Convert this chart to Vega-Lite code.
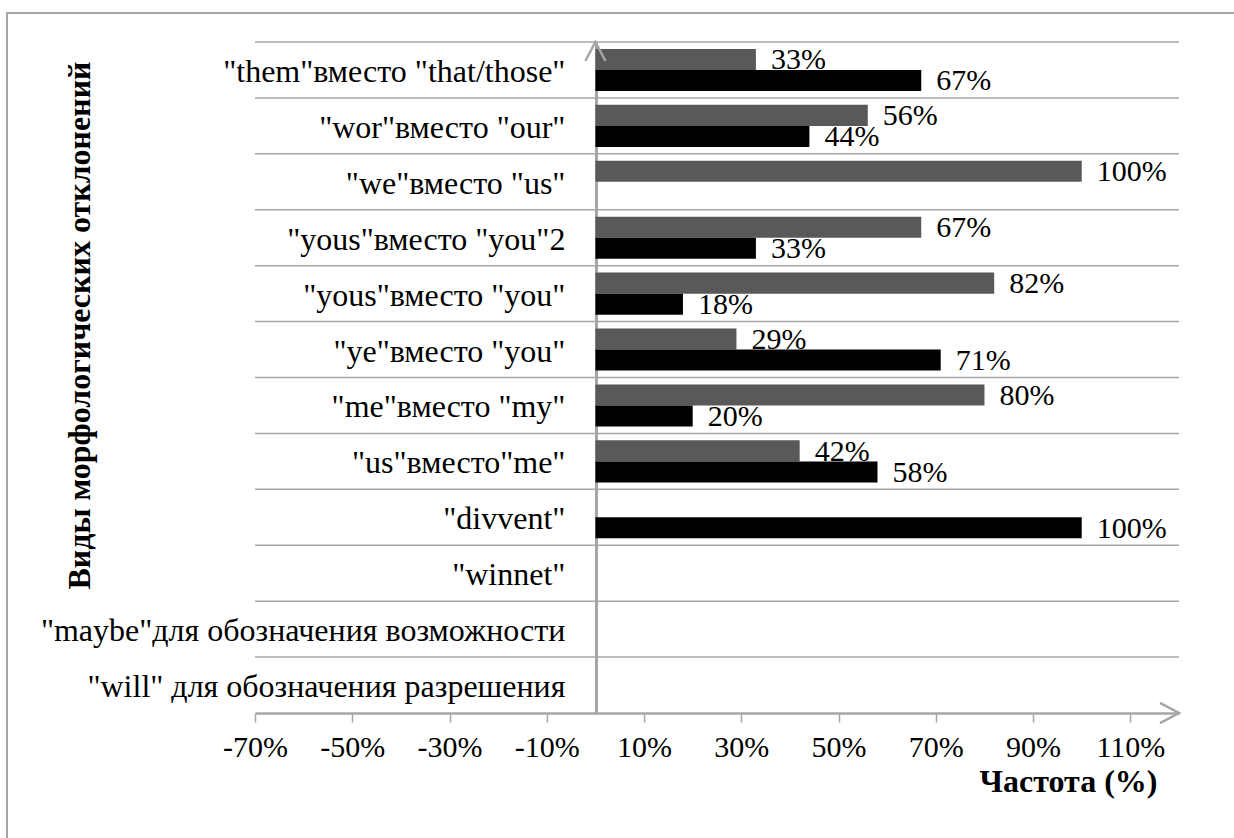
{
  "$schema": "https://vega.github.io/schema/vega-lite/v6.json",
  "autosize": {"type": "none"},
  "padding": {"left": 7, "top": 13, "right": -6, "bottom": -6},
  "width": 1233,
  "height": 831,
  "background": "white",
  "config": {
    "view": {"stroke": "#a6a6a6", "strokeWidth": 2},
    "font": "Liberation Serif",
    "axis": {
      "labelFont": "Liberation Serif", "titleFont": "Liberation Serif", "grid": false,
      "labelColor": "black", "titleColor": "black", "labelFontSize": 30, "titleFontSize": 32,
      "titleFontWeight": "bold", "domainColor": "#a6a6a6"
    },
    "axisX": {
      "offset": -131, "domainWidth": 2.5, "tickColor": "#a6a6a6", "tickSize": 9, "tickWidth": 1.5,
      "labelPadding": 10, "labelFlush": false, "labelOverlap": false, "labelBound": false,
      "titleX": 1061, "titleY": 68, "titleAlign": "center", "titleBaseline": "middle"
    },
    "axisY": {
      "offset": -589, "domainWidth": 3, "ticks": false, "labels": false,
      "titleX": -517, "titleY": 312, "titleAlign": "center", "titleBaseline": "middle", "titleAngle": 270
    }
  },
  "datasets": {
    "vals": [
      {"cat": "\"them\"вместо \"that/those\"", "series": "a", "v": 0.33},
      {"cat": "\"them\"вместо \"that/those\"", "series": "b", "v": 0.67},
      {"cat": "\"wor\"вместо \"our\"", "series": "a", "v": 0.56},
      {"cat": "\"wor\"вместо \"our\"", "series": "b", "v": 0.44},
      {"cat": "\"we\"вместо \"us\"", "series": "a", "v": 1.0},
      {"cat": "\"yous\"вместо \"you\"2", "series": "a", "v": 0.67},
      {"cat": "\"yous\"вместо \"you\"2", "series": "b", "v": 0.33},
      {"cat": "\"yous\"вместо \"you\"", "series": "a", "v": 0.82},
      {"cat": "\"yous\"вместо \"you\"", "series": "b", "v": 0.18},
      {"cat": "\"ye\"вместо \"you\"", "series": "a", "v": 0.29},
      {"cat": "\"ye\"вместо \"you\"", "series": "b", "v": 0.71},
      {"cat": "\"me\"вместо  \"my\"", "series": "a", "v": 0.80},
      {"cat": "\"me\"вместо  \"my\"", "series": "b", "v": 0.20},
      {"cat": "\"us\"вместо\"me\"", "series": "a", "v": 0.42},
      {"cat": "\"us\"вместо\"me\"", "series": "b", "v": 0.58},
      {"cat": "\"divvent\"", "series": "b", "v": 1.0}
    ],
    "cats": [
      {"cat": "\"them\"вместо \"that/those\""},
      {"cat": "\"wor\"вместо \"our\""},
      {"cat": "\"we\"вместо \"us\""},
      {"cat": "\"yous\"вместо \"you\"2"},
      {"cat": "\"yous\"вместо \"you\""},
      {"cat": "\"ye\"вместо \"you\""},
      {"cat": "\"me\"вместо  \"my\""},
      {"cat": "\"us\"вместо\"me\""},
      {"cat": "\"divvent\""},
      {"cat": "\"winnet\""},
      {"cat": "\"maybe\"для обозначения возможности"},
      {"cat": "\"will\" для обозначения разрешения"}
    ]
  },
  "layer": [
    {
      "data": {"name": "cats"},
      "mark": {"type": "rule", "color": "#a6a6a6", "strokeWidth": 1.5},
      "encoding": {
        "y": {
          "field": "cat", "type": "nominal", "sort": null, "bandPosition": 0,
          "title": "Виды морфологических отклонений",
          "scale": {
            "domain": ["\"them\"вместо \"that/those\"", "\"wor\"вместо \"our\"", "\"we\"вместо \"us\"", "\"yous\"вместо \"you\"2", "\"yous\"вместо \"you\"", "\"ye\"вместо \"you\"", "\"me\"вместо  \"my\"", "\"us\"вместо\"me\"", "\"divvent\"", "\"winnet\"", "\"maybe\"для обозначения возможности", "\"will\" для обозначения разрешения"],
            "range": [29, 700], "paddingInner": 0, "paddingOuter": 0
          }
        },
        "x": {
          "datum": -0.7, "type": "quantitative", "title": "Частота (%)",
          "scale": {"domain": [-0.7, 1.2], "range": [248, 1172], "nice": false},
          "axis": {"values": [-0.7, -0.5, -0.3, -0.1, 0.1, 0.3, 0.5, 0.7, 0.9, 1.1], "format": ".0%", "labelExpr": "replace(datum.label, '−', '-')"}
        },
        "x2": {"datum": 1.2}
      }
    },
    {
      "data": {"name": "cats"},
      "mark": {"type": "text", "align": "right", "baseline": "middle", "dx": -30, "dy": 2, "fontSize": 32, "color": "black", "font": "Liberation Serif"},
      "encoding": {
        "y": {"field": "cat", "type": "nominal", "sort": null, "title": "Виды морфологических отклонений"},
        "x": {"datum": 0, "type": "quantitative", "title": "Частота (%)", "axis": {"values": [-0.7, -0.5, -0.3, -0.1, 0.1, 0.3, 0.5, 0.7, 0.9, 1.1], "format": ".0%", "labelExpr": "replace(datum.label, '−', '-')"}},
        "text": {"field": "cat", "type": "nominal"}
      }
    },
    {
      "data": {"name": "vals"},
      "transform": [{"filter": "datum.series === 'a'"}],
      "mark": {"type": "bar", "color": "#595959"},
      "encoding": {
        "y": {"field": "cat", "type": "nominal", "sort": null, "title": "Виды морфологических отклонений"},
        "yOffset": {"field": "series", "type": "nominal", "scale": {"domain": ["a", "b"], "paddingInner": 0, "paddingOuter": 0.33}},
        "x": {"field": "v", "type": "quantitative", "title": "Частота (%)", "axis": {"values": [-0.7, -0.5, -0.3, -0.1, 0.1, 0.3, 0.5, 0.7, 0.9, 1.1], "format": ".0%", "labelExpr": "replace(datum.label, '−', '-')"}}
      }
    },
    {
      "data": {"name": "vals"},
      "transform": [{"filter": "datum.series === 'a'"}],
      "mark": {"type": "text", "align": "left", "baseline": "middle", "dx": 15, "dy": 1, "fontSize": 30, "color": "black"},
      "encoding": {
        "y": {"field": "cat", "type": "nominal", "sort": null, "title": "Виды морфологических отклонений"},
        "yOffset": {"field": "series", "type": "nominal", "scale": {"domain": ["a", "b"], "paddingInner": 0, "paddingOuter": 0.33}},
        "x": {"field": "v", "type": "quantitative", "title": "Частота (%)", "axis": {"values": [-0.7, -0.5, -0.3, -0.1, 0.1, 0.3, 0.5, 0.7, 0.9, 1.1], "format": ".0%", "labelExpr": "replace(datum.label, '−', '-')"}},
        "text": {"field": "v", "type": "quantitative", "format": ".0%"}
      }
    },
    {
      "data": {"name": "vals"},
      "transform": [{"filter": "datum.series === 'b'"}],
      "mark": {"type": "bar", "color": "#000000"},
      "encoding": {
        "y": {"field": "cat", "type": "nominal", "sort": null, "title": "Виды морфологических отклонений"},
        "yOffset": {"field": "series", "type": "nominal", "scale": {"domain": ["a", "b"], "paddingInner": 0, "paddingOuter": 0.33}},
        "x": {"field": "v", "type": "quantitative", "title": "Частота (%)", "axis": {"values": [-0.7, -0.5, -0.3, -0.1, 0.1, 0.3, 0.5, 0.7, 0.9, 1.1], "format": ".0%", "labelExpr": "replace(datum.label, '−', '-')"}}
      }
    },
    {
      "data": {"name": "vals"},
      "transform": [{"filter": "datum.series === 'b'"}],
      "mark": {"type": "text", "align": "left", "baseline": "middle", "dx": 15, "dy": 1, "fontSize": 30, "color": "black"},
      "encoding": {
        "y": {"field": "cat", "type": "nominal", "sort": null, "title": "Виды морфологических отклонений"},
        "yOffset": {"field": "series", "type": "nominal", "scale": {"domain": ["a", "b"], "paddingInner": 0, "paddingOuter": 0.33}},
        "x": {"field": "v", "type": "quantitative", "title": "Частота (%)", "axis": {"values": [-0.7, -0.5, -0.3, -0.1, 0.1, 0.3, 0.5, 0.7, 0.9, 1.1], "format": ".0%", "labelExpr": "replace(datum.label, '−', '-')"}},
        "text": {"field": "v", "type": "quantitative", "format": ".0%"}
      }
    },
    {
      "data": {"values": [{"cat": "\"them\"вместо \"that/those\""}]},
      "mark": {"type": "point", "shape": "M-0.53,1L0,0L0.53,1", "filled": false, "stroke": "#a6a6a6", "strokeWidth": 2.5, "size": 1444, "opacity": 1},
      "encoding": {
        "y": {"field": "cat", "type": "nominal", "sort": null, "bandPosition": 0, "title": "Виды морфологических отклонений"},
        "x": {"datum": 0, "type": "quantitative", "title": "Частота (%)", "axis": {"values": [-0.7, -0.5, -0.3, -0.1, 0.1, 0.3, 0.5, 0.7, 0.9, 1.1], "format": ".0%", "labelExpr": "replace(datum.label, '−', '-')"}}
      }
    },
    {
      "data": {"values": [{"cat": "\"will\" для обозначения разрешения"}]},
      "mark": {"type": "point", "shape": "M-1,-0.53L0,0L-1,0.53", "filled": false, "stroke": "#a6a6a6", "strokeWidth": 2.5, "size": 1444, "opacity": 1},
      "encoding": {
        "y": {"field": "cat", "type": "nominal", "sort": null, "bandPosition": 1, "title": "Виды морфологических отклонений"},
        "x": {"datum": 1.2, "type": "quantitative", "title": "Частота (%)", "axis": {"values": [-0.7, -0.5, -0.3, -0.1, 0.1, 0.3, 0.5, 0.7, 0.9, 1.1], "format": ".0%", "labelExpr": "replace(datum.label, '−', '-')"}}
      }
    }
  ]
}
